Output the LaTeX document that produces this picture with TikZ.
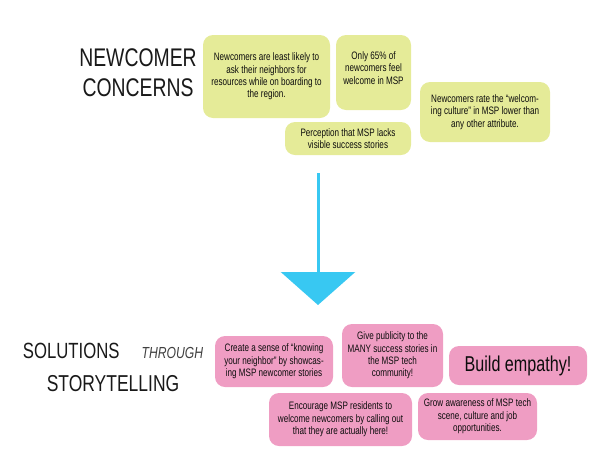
\documentclass[tikz,border=0pt]{standalone}
\usepackage{fontspec}
\setmainfont{Liberation Sans}[FakeStretch=0.75]
\newfontfamily\headfont{Liberation Sans}[FakeStretch=0.76]
\usetikzlibrary{arrows.meta}
\definecolor{concernfill}{HTML}{E5EB98}
\definecolor{solutionfill}{HTML}{EF9DC3}
\definecolor{arrowblue}{HTML}{38C8F2}
\tikzset{
  card/.style     = {shape=rectangle, rounded corners=10pt,
                     align=center, inner sep=2pt, text=black!95,
                     font=\fontsize{10.8}{12.4}\selectfont},
  cardsize/.style 2 args = {minimum width=#1pt, minimum height=#2pt},
  concern/.style  = {card, fill=concernfill},
  solution/.style = {card, fill=solutionfill},
  heading/.style  = {align=center, text=black!90,
                     font=\headfont\fontsize{25.5}{30}\selectfont},
  flow/.style     = {draw=arrowblue, line width=3pt,
                     -{Triangle[width=74pt,length=33pt]}}
}

\begin{document}
\begin{tikzpicture}
  [
    x = 1pt,
    y = -1pt
  ]
 \useasboundingbox (0,0) rectangle (596,472);
 % newcomer concerns
 \node [heading] (concernhead) at (138,73) {NEWCOMER\\CONCERNS};
 \node [concern, cardsize={127}{83}] (neighbors) at (266.5,76.5)
   {Newcomers are least likely to\\ask their neighbors for\\resources while on boarding to\\the region.};
 \node [concern, cardsize={75}{75}, text depth=9pt] (welcome) at (373.5,72.5)
   {Only 65\% of\\newcomers feel\\welcome in MSP};
 \node [concern, cardsize={126}{33}] (perception) at (348,138.5)
   {Perception that MSP lacks\\visible success stories};
 \node [concern, cardsize={130}{60}] (culture) at (485,112)
   {Newcomers rate the “welcom-\\ing culture” in MSP lower than\\any other attribute.};
 % arrow
 \coordinate (flowtop) at (318,173);
 \coordinate (flowtip) at (318,305);
 \draw [flow] (flowtop) -- (flowtip);
 % solutions through storytelling
 \node [heading, font=\headfont\fontsize{22}{33}\selectfont] (solutionhead) at (113,367.5)
   {SOLUTIONS\hspace{22pt}{\itshape\fontsize{16}{33}\selectfont\color{black!75}THROUGH}\\
    {\fontsize{23}{33}\selectfont STORYTELLING}};
 \node [solution, cardsize={118}{51}] (knowing) at (274,361.5)
   {Create a sense of “knowing\\your neighbor” by showcas-\\ing MSP newcomer stories};
 \node [solution, cardsize={101}{63}] (publicity) at (392.5,355.5)
   {Give publicity to the\\MANY success stories in\\the MSP tech\\community!};
 \node [solution, cardsize={138}{39}, font=\fontsize{21.5}{24}\selectfont] (empathy) at (518,365.5)
   {Build empathy!};
 \node [solution, cardsize={143}{53}] (residents) at (340.5,419.5)
   {Encourage MSP residents to\\welcome newcomers by calling out\\that they are actually here!};
 \node [solution, cardsize={119}{47}] (awareness) at (477.5,416.5)
   {Grow awareness of MSP tech\\scene, culture and job\\opportunities.};
\end{tikzpicture}
\end{document}
